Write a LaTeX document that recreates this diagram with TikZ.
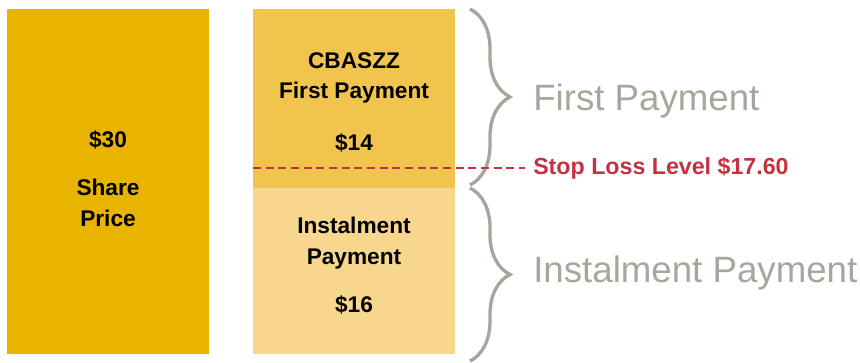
\documentclass[tikz,border=0pt]{standalone}
\usepackage{fontspec}
\setmainfont{Liberation Sans}
\usepackage{xcolor}
\usetikzlibrary{decorations.pathreplacing}

\definecolor{sharegold}{HTML}{E9B400}
\definecolor{firstgold}{HTML}{F1C44E}
\definecolor{instgold}{HTML}{F6D78D}
\definecolor{bracegray}{HTML}{A8A59C}
\definecolor{stopred}{HTML}{C4323F}

\tikzset{
  block/.style={anchor=north west, inner sep=0pt, minimum width=151.5pt},
  blocktext/.style={font=\fontsize{17}{23}\selectfont\bfseries, align=center, text=black},
  bigtext/.style={font=\fontsize{27.5}{32}\selectfont, text=bracegray, anchor=west, inner sep=0pt},
  bracepath/.style={draw=bracegray, line width=2.5pt, decorate,
    decoration={brace, amplitude=30pt}}
}

\begin{document}
\begin{tikzpicture}[x=0.75pt, y=-0.75pt]
      \useasboundingbox (0,0) rectangle (860,363);

      % bars
      \node[block, fill=sharegold, minimum height=258.75pt] (share) at (7,9) {};
      \node[block, fill=firstgold, minimum height=134.25pt] (first) at (253,9) {};
      \node[block, fill=instgold, minimum height=124.5pt] (inst) at (253,188) {};

      % texts in bars
      \node[blocktext] (price) at (108,140) {\$30};
      \node[blocktext] (pricelbl) at (108,203) {Share\\Price};
      \node[blocktext] (firstlbl) at (354,78) {CBASZZ\\First Payment};
      \node[blocktext] (firstval) at (354,143) {\$14};
      \node[blocktext] (instlbl) at (354,243) {Instalment\\Payment};
      \node[blocktext] (instval) at (354,305) {\$16};

      % braces
      \coordinate (b1top) at (470,9);
      \coordinate (b1bot) at (470,185);
      \coordinate (b2top) at (470,188);
      \coordinate (b2bot) at (470,361);
      \draw[bracepath] (b1top) -- (b1bot);
      \draw[bracepath] (b2top) -- (b2bot);

      \node[bigtext] (firsttag) at (533,101) {First Payment};
      \node[bigtext] (insttag) at (533,273) {Instalment Payment};

      % stop loss
      \node[font=\fontsize{17.4}{20}\selectfont\bfseries, text=stopred, anchor=west, inner sep=0pt] (stop) at (533,168) {Stop Loss Level \$17.60};
      \coordinate (stopstart) at (253,168);
      \draw[stopred, line width=1.8pt, dash pattern=on 6pt off 3.5pt] (stopstart) -- ([xshift=-6pt]stop.west);
\end{tikzpicture}
\end{document}
